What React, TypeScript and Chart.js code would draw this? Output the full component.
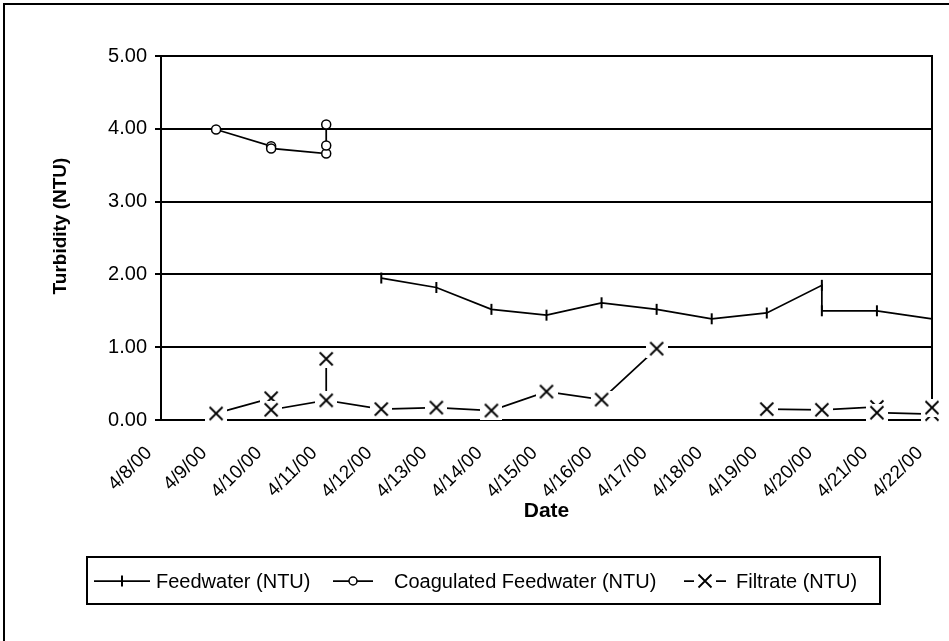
import React, { useEffect, useRef } from 'react';
import { Chart, registerables } from 'chart.js';

Chart.register(...registerables);

// Calendar days on the horizontal axis (also its tick labels)
const dateLabels = [
  '4/8/00', '4/9/00', '4/10/00', '4/11/00', '4/12/00', '4/13/00', '4/14/00', '4/15/00',
  '4/16/00', '4/17/00', '4/18/00', '4/19/00', '4/20/00', '4/21/00', '4/22/00',
];

// Turbidity readings (NTU); several samples can share one day
const feedDates = [
  '4/12/00', '4/13/00', '4/14/00', '4/15/00', '4/16/00', '4/17/00',
  '4/18/00', '4/19/00', '4/20/00', '4/20/00', '4/21/00', '4/22/00',
];
const feedValues = [1.95, 1.82, 1.52, 1.44, 1.61, 1.52, 1.39, 1.47, 1.85, 1.5, 1.5, 1.39];

const coagDates = ['4/9/00', '4/10/00', '4/10/00', '4/11/00', '4/11/00', '4/11/00'];
const coagValues = [3.99, 3.76, 3.73, 3.66, 3.77, 4.06];

const filtDates = [
  '4/9/00', '4/10/00', '4/10/00', '4/11/00', '4/11/00', '4/11/00', '4/12/00', '4/13/00',
  '4/14/00', '4/15/00', '4/16/00', '4/17/00', '4/18/00', '4/19/00', '4/20/00', '4/21/00',
  '4/21/00', '4/22/00', '4/22/00',
];
const filtValues: (number | null)[] = [
  0.09, 0.3, 0.14, 0.27, 0.84, 0.27, 0.15, 0.17, 0.13, 0.39, 0.28, 0.98, null, 0.15, 0.14, 0.18,
  0.1, 0.08, 0.17,
];

const seriesNames = ['Feedwater (NTU)', 'Coagulated Feedwater (NTU)', 'Filtrate (NTU)'];
const yTitle = 'Turbidity (NTU)';
const xTitle = 'Date';

const FONT = '"Liberation Sans", Arial, sans-serif';

const toPoints = (dates: string[], values: (number | null)[]) =>
  dates.map((d, i) => ({ x: dateLabels.indexOf(d), y: values[i] }));

// "x" marker on a white patch, so it masks the lines behind it
function makeCrossMarker(): HTMLCanvasElement {
  const w = 22;
  const h = 18;
  const c = document.createElement('canvas');
  c.width = w;
  c.height = h;
  const g = c.getContext('2d')!;
  g.fillStyle = '#fff';
  g.fillRect(0, 0, w, h);
  g.strokeStyle = '#000';
  g.lineWidth = 1.8;
  const cx = w / 2;
  const cy = h / 2;
  const r = 6.5;
  g.beginPath();
  g.moveTo(cx - r, cy - r);
  g.lineTo(cx + r, cy + r);
  g.moveTo(cx + r, cy - r);
  g.lineTo(cx - r, cy + r);
  g.stroke();
  return c;
}

export default function App() {
  const canvasRef = useRef<HTMLCanvasElement | null>(null);

  useEffect(() => {
    const canvas = canvasRef.current;
    if (!canvas) return;
    const cross = makeCrossMarker();

    const decor = {
      id: 'decor',
      beforeDatasetsDraw(chart: Chart) {
        const { ctx, chartArea: a } = chart;
        ctx.save();
        ctx.strokeStyle = '#000';
        ctx.lineWidth = 2;
        ctx.beginPath();
        ctx.moveTo(a.right, a.top - 1);
        ctx.lineTo(a.right, a.bottom + 1);
        ctx.stroke();
        ctx.restore();
      },
      afterDraw(chart: Chart) {
        const { ctx, chartArea: a } = chart;
        ctx.save();
        // outer chart frame
        ctx.strokeStyle = '#000';
        ctx.lineWidth = 2;
        ctx.strokeRect(4, 4, 980, 680);

        // axis titles
        ctx.fillStyle = '#000';
        ctx.textAlign = 'center';
        ctx.textBaseline = 'middle';
        ctx.font = `bold 21px ${FONT}`;
        ctx.fillText(xTitle, (a.left + a.right) / 2, 511);
        ctx.font = `bold 19px ${FONT}`;
        ctx.save();
        ctx.translate(61, 226);
        ctx.rotate(-Math.PI / 2);
        ctx.fillText(yTitle, 0, 0);
        ctx.restore();

        // legend
        const ly = 581;
        ctx.lineWidth = 2;
        ctx.strokeRect(87, 557, 793, 47);
        ctx.font = `20px ${FONT}`;
        ctx.textAlign = 'left';
        const items = [
          { x0: 94, x1: 150, tx: 156 },
          { x0: 333, x1: 373, tx: 394 },
          { x0: 684, x1: 726, tx: 736 },
        ];
        items.forEach((it, i) => {
          ctx.strokeStyle = '#000';
          ctx.lineWidth = 1.75;
          ctx.beginPath();
          ctx.moveTo(it.x0, ly);
          ctx.lineTo(it.x1, ly);
          ctx.stroke();
          const cx = (it.x0 + it.x1) / 2;
          if (i === 0) {
            ctx.lineWidth = 2;
            ctx.beginPath();
            ctx.moveTo(cx, ly - 5.5);
            ctx.lineTo(cx, ly + 5.5);
            ctx.stroke();
          } else if (i === 1) {
            ctx.fillStyle = '#fff';
            ctx.lineWidth = 1.5;
            ctx.beginPath();
            ctx.arc(cx, ly, 4, 0, Math.PI * 2);
            ctx.fill();
            ctx.stroke();
          } else {
            ctx.drawImage(cross, cx - cross.width / 2, ly - cross.height / 2);
          }
          ctx.fillStyle = '#000';
          ctx.fillText(seriesNames[i], it.tx, ly + 1);
        });
        ctx.restore();
      },
    };

    const chart = new Chart(canvas, {
      type: 'line',
      data: {
        datasets: [
          {
            label: seriesNames[0],
            data: toPoints(feedDates, feedValues),
            borderColor: '#000',
            borderWidth: 1.75,
            pointStyle: 'line',
            pointRotation: 90,
            pointRadius: 5.5,
            pointBorderWidth: 2,
            pointBorderColor: '#000',
            pointBackgroundColor: '#000',
            tension: 0,
            fill: false,
            clip: false,
          },
          {
            label: seriesNames[1],
            data: toPoints(coagDates, coagValues),
            borderColor: '#000',
            borderWidth: 1.75,
            pointStyle: 'circle',
            pointRadius: 4.5,
            pointBorderWidth: 1.5,
            pointBorderColor: '#000',
            pointBackgroundColor: '#fff',
            tension: 0,
            fill: false,
            clip: false,
          },
          {
            label: seriesNames[2],
            data: toPoints(filtDates, filtValues),
            borderColor: '#000',
            borderWidth: 1.75,
            pointStyle: cross,
            pointRadius: 11,
            tension: 0,
            fill: false,
            spanGaps: false,
            clip: false,
          },
        ],
      },
      options: {
        responsive: false,
        maintainAspectRatio: false,
        animation: false,
        events: [],
        layout: { padding: { left: 0, top: 56, right: 17, bottom: 0 } },
        plugins: { legend: { display: false }, tooltip: { enabled: false } },
        scales: {
          x: {
            type: 'linear',
            min: 0,
            max: dateLabels.length - 1,
            afterFit: (s: any) => {
              s.height = 221;
              s.paddingLeft = 0;
              s.paddingRight = 0;
            },
            grid: { display: false, drawTicks: false },
            border: { display: true, color: '#000', width: 2 },
            ticks: {
              stepSize: 1,
              autoSkip: false,
              maxRotation: 45,
              minRotation: 45,
              padding: 22,
              labelOffset: -12,
              color: '#000',
              font: { family: FONT, size: 19 },
              callback: (v: any) => dateLabels[Number(v)] ?? '',
            },
          },
          y: {
            min: 0,
            max: 5,
            afterFit: (s: any) => {
              s.width = 161;
            },
            grid: { color: '#000', lineWidth: 2, tickLength: 6, drawTicks: true },
            border: { display: true, color: '#000', width: 2 },
            ticks: {
              stepSize: 1,
              padding: 8,
              color: '#000',
              font: { family: FONT, size: 20 },
              callback: (v: any) => Number(v).toFixed(2),
            },
          },
        },
      },
      plugins: [decor],
    });

    return () => chart.destroy();
  }, []);

  return (
    <div style={{ position: 'absolute', left: 0, top: 0, width: 949, height: 641, background: '#fff' }}>
      <canvas ref={canvasRef} width={949} height={641} style={{ display: 'block' }} />
    </div>
  );
}
